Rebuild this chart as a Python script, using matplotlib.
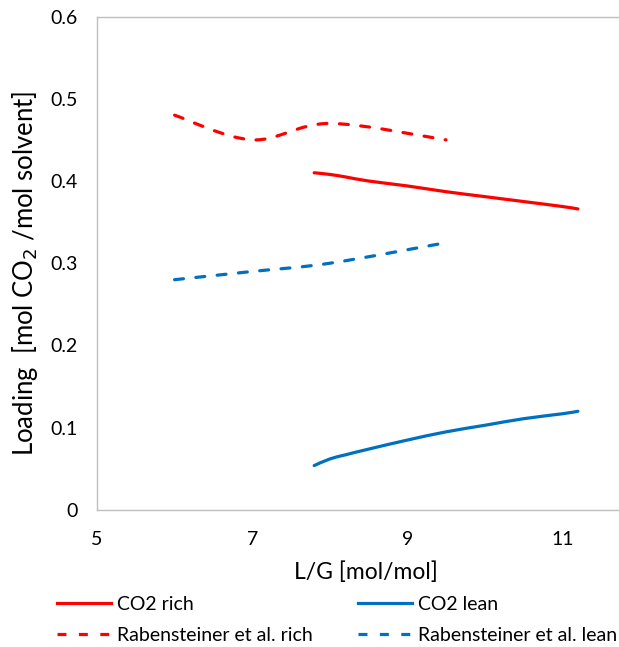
import matplotlib
matplotlib.use("Agg")
import matplotlib.pyplot as plt
import numpy as np
from matplotlib.path import Path
from matplotlib.patches import PathPatch
from matplotlib.lines import Line2D

plt.rcParams["font.family"] = ["Lato", "DejaVu Sans"]

# model results
lg_model = [7.8, 8.0, 8.2, 8.5, 9.0, 9.5, 10.0, 10.5, 11.0, 11.2]
rich_model = [0.410, 0.408, 0.405, 0.400, 0.394, 0.387, 0.381, 0.375, 0.369, 0.366]
lean_model = [0.054, 0.062, 0.067, 0.074, 0.085, 0.095, 0.103, 0.111, 0.117, 0.120]

# Rabensteiner et al. pilot plant data
lg_rab = [6.0, 7.0, 8.0, 9.5]
rich_rab = [0.48, 0.45, 0.47, 0.45]
lean_rab = [0.28, 0.29, 0.30, 0.325]

RED = "#FF0000"
BLUE = "#0070C0"
DASH = (0, (2.8, 3.9))


def smooth_path(x, y):
    # Catmull-Rom style cubic Bezier through the points (spreadsheet "smoothed line")
    pts = np.column_stack([x, y]).astype(float)
    n = len(pts)
    verts = [pts[0]]
    codes = [Path.MOVETO]
    for i in range(n - 1):
        p0 = pts[max(i - 1, 0)]
        p1 = pts[i]
        p2 = pts[i + 1]
        p3 = pts[min(i + 2, n - 1)]
        verts += [p1 + (p2 - p0) / 6.0, p2 - (p3 - p1) / 6.0, p2]
        codes += [Path.CURVE4] * 3
    return Path(verts, codes)


fig = plt.figure(figsize=(6.19, 6.47), dpi=100)
ax = fig.add_axes([97 / 619, 1 - 510 / 647, 1 - 97 / 619, (510 - 16.5) / 647])

lw = 2.3
series = [
    (lg_model, rich_model, RED, "-", "CO2 rich"),
    (lg_rab, rich_rab, RED, DASH, "Rabensteiner et al. rich"),
    (lg_model, lean_model, BLUE, "-", "CO2 lean"),
    (lg_rab, lean_rab, BLUE, DASH, "Rabensteiner et al. lean"),
]
handles = []
for x, y, c, ls, lab in series:
    ax.add_patch(PathPatch(smooth_path(x, y), fill=False, edgecolor=c, lw=lw,
                           linestyle=ls, capstyle="round"))
    handles.append(Line2D([], [], color=c, lw=lw, linestyle=ls, label=lab))

ax.set_xlim(5, 11.73)
ax.set_ylim(0, 0.6)
ax.set_xticks([5, 7, 9, 11])
ax.set_yticks([0, 0.1, 0.2, 0.3, 0.4, 0.5, 0.6])
ax.set_yticklabels(["0", "0.1", "0.2", "0.3", "0.4", "0.5", "0.6"])
ax.tick_params(length=0, labelsize=14)
ax.tick_params(axis="y", pad=14)
ax.tick_params(axis="x", pad=15)
ax.spines["right"].set_visible(False)
for s in ("left", "top", "bottom"):
    ax.spines[s].set_color("#BFBFBF")
    ax.spines[s].set_linewidth(1)

ax.set_xlabel("L/G [mol/mol]", fontsize=16.5, va="center", ha="center")
ax.xaxis.set_label_coords((366 - 97) / 522, (510 - 572) / 493.5)
ax.set_ylabel("Loading  [mol CO$_2$ /mol solvent]", fontsize=18.5,
              va="center", ha="center")
ax.yaxis.set_label_coords((25 - 97) / 522, (510 - 273) / 493.5)

# two legend columns, placed separately
for k, x0 in enumerate((57, 358)):
    fig.legend(handles=handles[2 * k:2 * k + 2], loc="center left",
               bbox_to_anchor=(x0 / 619, 1 - 620 / 647), frameon=False,
               fontsize=14, handlelength=2.8, handletextpad=0.3,
               borderpad=0, borderaxespad=0, labelspacing=0.7)

fig.savefig("out.png", dpi=100)
